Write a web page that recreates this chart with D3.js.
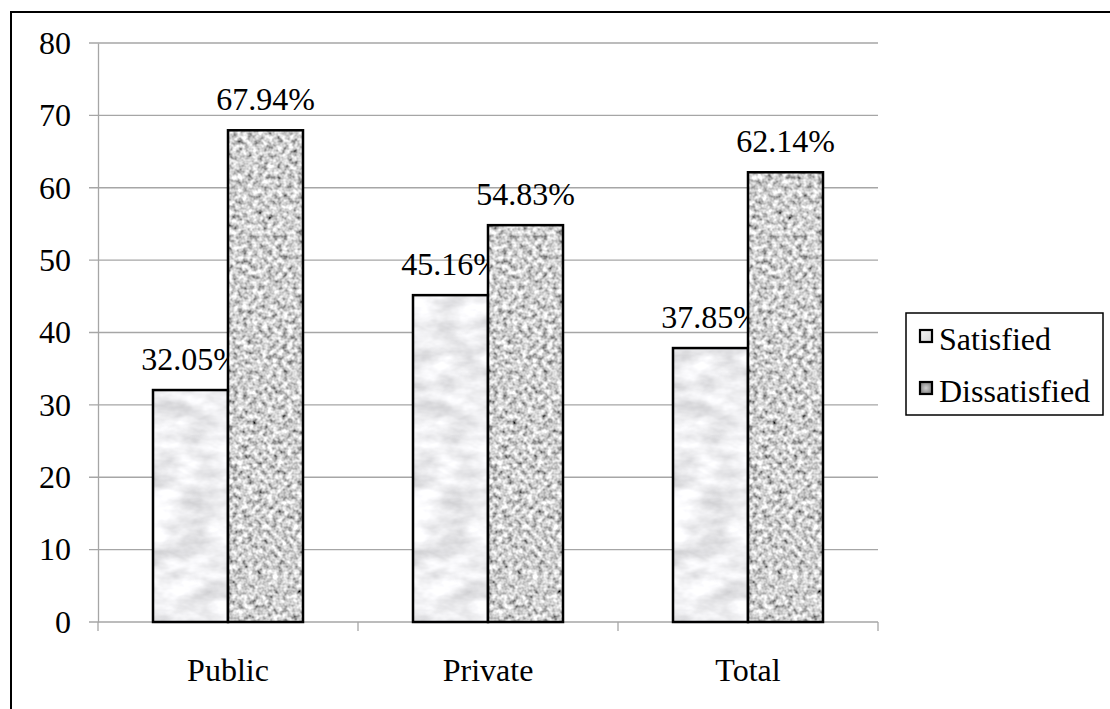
<!DOCTYPE html>
<html><head><meta charset="utf-8">
<script src="https://cdn.jsdelivr.net/npm/d3@7"></script>
<style>body{margin:0;background:#fff}svg{display:block}
svg text{font-family:"Liberation Serif","Times New Roman",Times,serif !important;font-size:32px !important;fill:#000}</style>
</head><body><svg id="c" width="1110" height="709"></svg>
<script>
const categories = ["Public", "Private", "Total"];
const seriesNames = ["Satisfied", "Dissatisfied"];
const satisfied = [32.05, 45.16, 37.85];
const dissatisfied = [67.94, 54.83, 62.14];
const yTicks = [0, 10, 20, 30, 40, 50, 60, 70, 80];

const svg = d3.select("#c");
const defs = svg.append("defs");

function noiseFilter(id, freq, oct, k, c, seed, tint) {
  const f = defs.append("filter").attr("id", id).attr("x", 0).attr("y", 0).attr("width", 1).attr("height", 1);
  f.append("feTurbulence").attr("type", "fractalNoise").attr("baseFrequency", freq).attr("numOctaves", oct).attr("seed", seed).attr("result", "n");
  f.append("feColorMatrix").attr("in", "n").attr("type", "matrix")
    .attr("values", `${k} 0 0 0 ${c}  ${k} 0 0 0 ${c}  ${k} 0 0 0 ${c + tint}  0 0 0 0 1`).attr("result", "g");
  f.append("feComposite").attr("in", "g").attr("in2", "SourceGraphic").attr("operator", "in");
}
noiseFilter("texSat", "0.025 0.05", 4, 0.75, 0.49, 3, 0.02);
noiseFilter("texDis", "0.2", 2, 1.6, -0.17, 7, 0);

const g1 = defs.append("linearGradient").attr("id", "legSat").attr("x1", 0).attr("y1", 0).attr("x2", 1).attr("y2", 1);
g1.append("stop").attr("offset", 0).attr("stop-color", "#f4f4f4");
g1.append("stop").attr("offset", 1).attr("stop-color", "#d4d4d4");
const g2 = defs.append("radialGradient").attr("id", "legDis");
g2.append("stop").attr("offset", 0).attr("stop-color", "#d0d0d0");
g2.append("stop").attr("offset", 1).attr("stop-color", "#888");

// outer frame (cut off at right and bottom)
svg.append("path").attr("d", "M11,720 V12 H1120").attr("fill", "none").attr("stroke", "#000").attr("stroke-width", 2);

const pLeft = 98, pRight = 878, pTop = 43, pBottom = 622;
const y = d3.scaleLinear().domain([0, 80]).range([pBottom, pTop]);
const x0 = d3.scaleBand().domain(categories).range([pLeft, pRight]).paddingInner(0).paddingOuter(0);
const x1 = d3.scaleBand().domain(seriesNames).range([55, 205]);

// gridlines
svg.append("g").selectAll("line").data(yTicks).join("line")
  .attr("x1", pLeft - 9).attr("x2", pRight).attr("y1", d => y(d)).attr("y2", d => y(d))
  .attr("stroke", "#a6a6a6").attr("stroke-width", 1.3);

// y axis
const yAxis = svg.append("g").attr("transform", `translate(${pLeft},0)`)
  .call(d3.axisLeft(y).tickValues(yTicks).tickSize(0).tickPadding(27));
yAxis.select(".domain").attr("stroke", "#a6a6a6").attr("stroke-width", 1.3);

// x axis
const xAxis = svg.append("g").attr("transform", `translate(0,${pBottom})`)
  .call(d3.axisBottom(x0).tickSize(0).tickPadding(36));
xAxis.select(".domain").remove();
const catTicks = categories.map(c => x0(c)).concat([pRight]);
svg.append("g").selectAll("line").data(catTicks).join("line")
  .attr("x1", d => d).attr("x2", d => d).attr("y1", pBottom).attr("y2", pBottom + 9)
  .attr("stroke", "#a6a6a6").attr("stroke-width", 1.3);

const rows = categories.map((c, i) => ({c, vals: [{s: "Satisfied", v: satisfied[i]}, {s: "Dissatisfied", v: dissatisfied[i]}]}));
const groups = svg.append("g").selectAll("g").data(rows).join("g")
  .attr("transform", d => `translate(${x0(d.c)},0)`);
const bars = groups.selectAll("g").data(d => d.vals).join("g");
bars.append("rect")
  .attr("x", d => x1(d.s)).attr("width", x1.bandwidth())
  .attr("y", d => y(d.v)).attr("height", d => y(0) - y(d.v))
  .attr("fill", "#fff").attr("filter", d => d.s === "Satisfied" ? "url(#texSat)" : "url(#texDis)");
bars.append("rect")
  .attr("x", d => x1(d.s)).attr("width", x1.bandwidth())
  .attr("y", d => y(d.v)).attr("height", d => y(0) - y(d.v))
  .attr("fill", "none").attr("stroke", "#000").attr("stroke-width", 2.5);
bars.append("text")
  .attr("x", d => x1(d.s) + x1.bandwidth() / 2).attr("y", d => y(d.v) - 20)
  .attr("text-anchor", "middle")
  .text(d => d.v.toFixed(2) + "%");

// legend
const lg = svg.append("g").attr("transform", "translate(906,313)");
lg.append("rect").attr("width", 197).attr("height", 102).attr("fill", "#fff").attr("stroke", "#000").attr("stroke-width", 1.5);
const items = lg.selectAll("g").data(seriesNames).join("g").attr("transform", (d, i) => `translate(14,${26 + i * 52})`);
items.append("rect").attr("x", 0).attr("y", -9).attr("width", 12).attr("height", 12)
  .attr("fill", (d, i) => i === 0 ? "url(#legSat)" : "url(#legDis)").attr("stroke", "#000").attr("stroke-width", 2.2);
items.append("text").attr("x", 19).attr("y", 0).attr("dy", "0.35em").text(d => d);
</script></body></html>
